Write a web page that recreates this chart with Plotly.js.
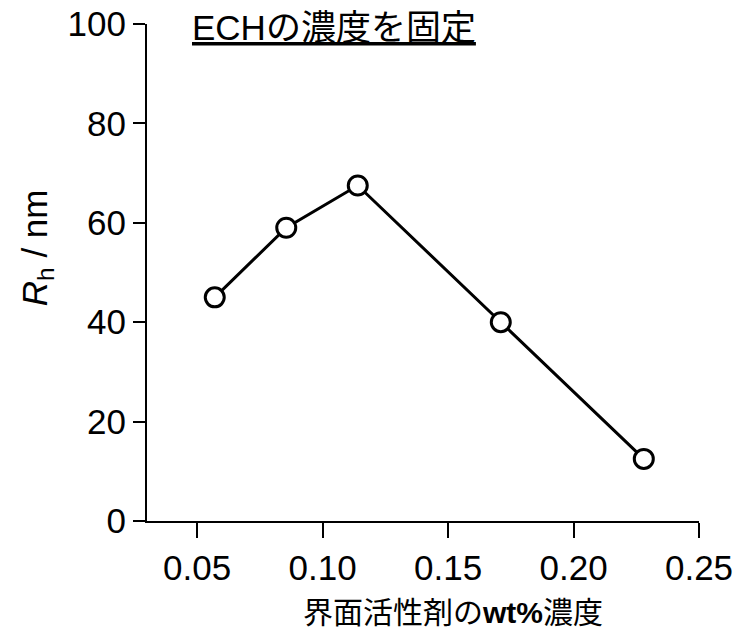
<!DOCTYPE html>
<html>
<head>
<meta charset="utf-8">
<script src="https://cdn.plot.ly/plotly-3.0.1.min.js"></script>
<style>html,body{margin:0;padding:0;background:#fff;}#chart{width:741px;height:631px;}</style>
</head>
<body>
<div id="chart"></div>
<script>
// Data
const surfactantWt = [0.057, 0.0855, 0.114, 0.171, 0.228];
const rhNm = [45, 59, 67.5, 40, 12.5];
const xTickVals = [0.05, 0.10, 0.15, 0.20, 0.25];
const xTickText = ["0.05", "0.10", "0.15", "0.20", "0.25"];
const yTickVals = [0, 20, 40, 60, 80, 100];
const titleText = "<u>ECHの濃度を固定</u>";
const xTitleText = "界面活性剤の<span style=\"font-family:'Liberation Sans';font-weight:bold\">wt%</span>濃度";
const yTitleText = "<i>R</i><sub>h</sub> / nm";

const FONT = "Liberation Sans, Arial, Noto Sans CJK JP, sans-serif";
const CJK = "Noto Sans CJK JP, Liberation Sans, sans-serif";

const trace = {
  x: surfactantWt,
  y: rhNm,
  type: "scatter",
  mode: "lines+markers",
  line: {color: "#000", width: 3},
  marker: {symbol: "circle", size: 19, color: "#fff", line: {color: "#000", width: 3}},
  cliponaxis: false,
  hoverinfo: "skip"
};

const layout = {
  width: 741, height: 631,
  margin: {l: 147, r: 42, t: 24, b: 110},
  paper_bgcolor: "#fff", plot_bgcolor: "#fff",
  showlegend: false,
  font: {family: FONT, color: "#000", size: 35},
  xaxis: {
    range: [0.03, 0.25],
    tickmode: "array", tickvals: xTickVals, ticktext: xTickText,
    ticks: "outside", ticklen: 15, tickwidth: 2, tickcolor: "#000",
    showline: true, linewidth: 2, linecolor: "#000",
    showgrid: false, zeroline: false,
    tickfont: {family: FONT, size: 35, color: "#000"}
  },
  yaxis: {
    range: [0, 100],
    tickmode: "array", tickvals: yTickVals,
    ticks: "outside", ticklen: 12, tickwidth: 2, tickcolor: "#000",
    showline: true, linewidth: 2, linecolor: "#000",
    showgrid: false, zeroline: false,
    tickfont: {family: FONT, size: 35, color: "#000"}
  },
  annotations: [
    {
      text: titleText, xref: "paper", yref: "paper",
      x: 0.078, y: 0.992, xanchor: "left", yanchor: "middle",
      showarrow: false, font: {family: FONT, size: 35, color: "#000"}
    },
    {
      text: xTitleText, xref: "paper", yref: "paper",
      x: 0.555, y: -0.18, xanchor: "center", yanchor: "middle",
      showarrow: false, font: {family: CJK, size: 30, color: "#000"}
    },
    {
      text: yTitleText, xref: "paper", yref: "paper",
      x: -0.2, y: 0.55, xanchor: "center", yanchor: "middle", textangle: -90,
      showarrow: false, font: {family: FONT, size: 35, color: "#000"}
    }
  ]
};

Plotly.newPlot("chart", [trace], layout, {staticPlot: true, displayModeBar: false});
</script>
</body>
</html>
